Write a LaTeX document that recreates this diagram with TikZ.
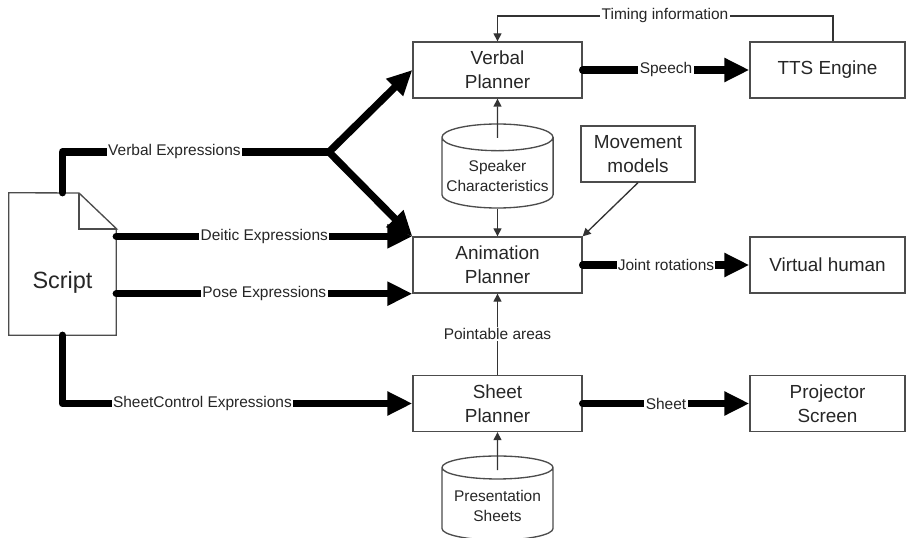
\documentclass[tikz,border=0pt]{standalone}
\usepackage{fontspec}
\setmainfont{Liberation Sans}
\usetikzlibrary{arrows.meta,shapes.geometric}

\begin{document}
\begin{tikzpicture}[
			x=0.75pt, y=-0.75pt,
			block/.style={draw=black!70, line width=1pt, text=black!85, minimum width=126.75pt, minimum height=42pt, align=center, font=\fontsize{14.2pt}{18pt}\selectfont},
			device/.style={block, minimum width=116.25pt},
			store/.style={draw=black!70, line width=1pt, text=black!85, cylinder, shape border rotate=90, aspect=0.24, minimum width=83.25pt, minimum height=63pt, anchor=shape center, align=center, font=\fontsize{11.6pt}{15pt}\selectfont},
			elabel/.style={fill=white, inner sep=1pt, text=black!85, font=\fontsize{11.6pt}{14pt}\selectfont},
			flow/.style={line width=5.5pt, line cap=round, line join=round, -{Triangle[length=18.75pt,width=17pt]}},
			info/.style={draw=black!80, line width=1pt, -{Triangle[length=6pt,width=6pt]}}
			]
			\useasboundingbox (0,0) rectangle (909,538);
			% planners
			\node[block] (vp) at (497.5,70) {Verbal\\Planner};
			\node[block] (ap) at (497.5,265) {Animation\\Planner};
			\node[block] (sp) at (497.5,403.5) {Sheet\\Planner};
			% outputs
			\node[device] (tts) at (827.5,70) {TTS Engine};
			\node[device] (vh) at (827.5,265) {Virtual human};
			\node[device] (ps) at (827.5,403.5) {Projector\\Screen};
			% data
			\node[store] (spk) at (497.5,166) {Speaker\\Characteristics};
			\node[store] (pres) at (497.5,498) {Presentation\\Sheets};
			\node[block, minimum width=85.5pt] (mm) at (638,154) {Movement\\models};
			% script document
			\node[minimum width=80.25pt, minimum height=106.5pt, inner sep=0pt] (script) at (62.5,264) {};
			\draw[black!70, line width=1pt, fill=white] (script.north west) -- (79,193) -- (116.75,229) -- (script.east |- 0,229) -- (script.south east) -- (script.south west) -- cycle;
			\draw[black!70, line width=1pt] (79,193) |- (116.75,229);
			\node[text=black!85, font=\fontsize{17.6pt}{20pt}\selectfont] (scripttext) at (62.5,282) {Script};
			\coordinate (fork) at (329,152);
			\coordinate (timing) at (665,16);

			% thick flows
			\draw[flow, -] (script.north) |- node[elabel, pos=0.71] {Verbal Expressions} (fork);
			\draw[flow] (fork) -- (vp.west);
			\draw[flow] (fork) -- (ap.north west);
			\draw[flow] (script.east |- ap.north west) -- node[elabel] {Deitic Expressions} (ap.north west);
			\draw[flow] (script.east |- ap.south west) -- node[elabel] {Pose Expressions} (ap.south west);
			\draw[flow] (script.south) |- node[elabel, pos=0.7] {SheetControl Expressions} (sp.west);
			\draw[flow] (vp.east) -- node[elabel] {Speech} (tts.west);
			\draw[flow] (ap.east) -- node[elabel] {Joint rotations} (vh.west);
			\draw[flow] (sp.east) -- node[elabel] {Sheet} (ps.west);

			% thin connectors
			\draw[info] ([xshift=4pt]tts.north) |- node[elabel, pos=1] {Timing information} (timing) -| (vp.north);
			\draw[info] ([yshift=-11pt]spk.north) -- (vp.south);
			\draw[info] (spk.south) -- (ap.north);
			\draw[info] (mm.south) -- (ap.north east);
			\draw[info] (sp.north) -- node[elabel] {Pointable areas} (ap.south);
			\draw[info] ([yshift=-11pt]pres.north) -- (sp.south);
		\end{tikzpicture}
\end{document}
